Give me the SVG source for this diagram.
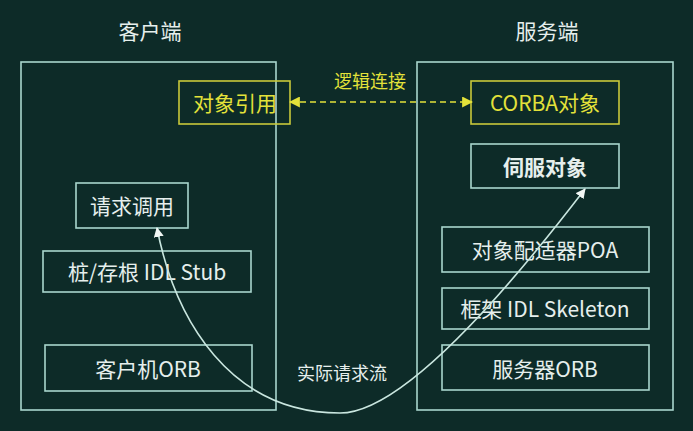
<svg xmlns="http://www.w3.org/2000/svg" width="693" height="431" viewBox="0 0 693 431">
<defs>
<style>
.bg{fill:#0d2b28}
.frame{fill:none;stroke:#a9d6cd;stroke-width:1.6}
.box{fill:none;stroke:#a9d6cd;stroke-width:1.6}
.ybox{fill:none;stroke:#c9c93a;stroke-width:1.6}
.t{font-family:"Noto Sans CJK SC","Noto Sans",sans-serif;font-size:21px;fill:#e6efed;text-anchor:middle;dominant-baseline:central}
.h{font-size:21px}
.y{fill:#e3e23a}
.b{font-weight:bold}
.s{font-size:18px}
.flow{fill:none;stroke:#c9e6df;stroke-width:1.6}
.dash{fill:none;stroke:#e3e23a;stroke-width:1.6;stroke-dasharray:6 4}
</style>
<marker id="wa" viewBox="0 0 10 10" refX="9" refY="5" markerWidth="10" markerHeight="10" markerUnits="userSpaceOnUse" orient="auto-start-reverse">
<path d="M0,0 L10,5 L0,10 Z" fill="#f2f7f5"/>
</marker>
<marker id="ya" viewBox="0 0 10 10" refX="9" refY="5" markerWidth="11" markerHeight="11" markerUnits="userSpaceOnUse" orient="auto-start-reverse">
<path d="M0,0 L10,5 L0,10 Z" fill="#e3e23a"/>
</marker>
</defs>
<rect class="bg" x="0" y="0" width="693" height="431"/>
<g id="client">
<text class="t h" x="150" y="30">客户端</text>
<rect class="frame" x="21" y="62" width="255" height="348"/>
</g>
<g id="server">
<text class="t h" x="547" y="30">服务端</text>
<rect class="frame" x="417" y="62" width="256" height="348"/>
</g>
<g id="objref">
<rect class="ybox" x="179" y="81" width="111" height="43"/>
<text class="t y" x="235" y="102">对象引用</text>
</g>
<g id="corbaobj">
<rect class="ybox" x="471" y="81" width="148" height="43"/>
<text class="t y" x="545" y="102">CORBA对象</text>
</g>
<g id="servant">
<rect class="box" x="471" y="144" width="148" height="44"/>
<text class="t b" x="545" y="166">伺服对象</text>
</g>
<g id="request">
<rect class="box" x="76" y="183" width="112" height="45"/>
<text class="t" x="132" y="205">请求调用</text>
</g>
<g id="stub">
<rect class="box" x="43" y="251" width="208" height="41"/>
<text class="t" x="147" y="271">桩/存根 IDL Stub</text>
</g>
<g id="clientorb">
<rect class="box" x="45" y="345" width="207" height="46"/>
<text class="t" x="148" y="368">客户机ORB</text>
</g>
<g id="poa">
<rect class="box" x="442" y="227" width="207" height="45"/>
<text class="t" x="545" y="249">对象配适器POA</text>
</g>
<g id="skeleton">
<rect class="box" x="442" y="288" width="207" height="41"/>
<text class="t" x="545" y="308">框架 IDL Skeleton</text>
</g>
<g id="serverorb">
<rect class="box" x="442" y="345" width="207" height="45"/>
<text class="t" x="545" y="368">服务器ORB</text>
</g>
<g id="connectors">
<path class="dash" d="M290,102 L472,102" marker-start="url(#ya)" marker-end="url(#ya)"/>
<text class="t y s" x="370" y="80">逻辑连接</text>
<path class="flow" d="M157,228 C175,320 230,413 340,413 C400,413 500,300 585,189" marker-start="url(#wa)" marker-end="url(#wa)"/>
<text class="t s" x="342" y="372">实际请求流</text>
</g>
</svg>
